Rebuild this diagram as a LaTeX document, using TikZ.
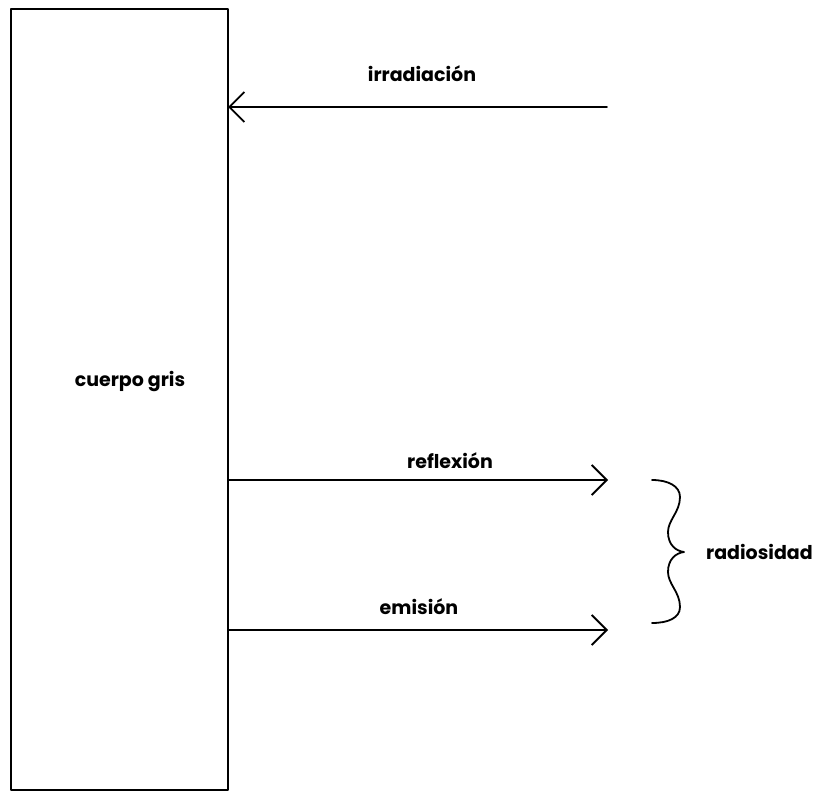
\documentclass[tikz,border=0pt]{standalone}
\usepackage{fontspec}
\setmainfont{Poppins}
\usetikzlibrary{arrows.meta}
\begin{document}
\begin{tikzpicture}[x=1pt,y=-1pt,
  line/.style={line width=1.8pt,line cap=round,line join=round},
  flow/.style={line,-{Straight Barb[length=15pt,width=30pt,line width=1.8pt]}},
  lbl/.style={font=\fontsize{19}{22}\selectfont\bfseries,inner sep=0pt,anchor=center}]
\useasboundingbox (0,0) rectangle (820,792);
% body
\node[line,draw,minimum width=217pt,minimum height=781pt,inner sep=0pt,outer sep=0pt] (body) at (119.5,399.5) {};
\node[lbl] (bodylbl) at (130,382) {cuerpo gris};
% coordinates
\coordinate (irrS) at (607,107);
\coordinate (refE) at (608,480);
\coordinate (emiE) at (608,630);
% arrows
\draw[flow] (irrS) -- (body.east |- irrS);
\draw[flow] (body.east |- refE) -- (refE);
\draw[flow] (body.east |- emiE) -- (emiE);
% labels
\node[lbl] (irrlbl) at (422,74) {irradiación};
\node[lbl] (reflbl) at (450,461) {reflexión};
\node[lbl] (emilbl) at (419,607) {emisión};
% brace
\coordinate (bt) at (652,480);
\coordinate (bb) at (652,623);
\coordinate (tip) at (684,552);
\draw[line] (bt) .. controls (668,480) and (680,486) .. (680,497)
  .. controls (680,512) and (668,520) .. (668,532)
  .. controls (668,545) and (676,551) .. (tip)
  .. controls (676,553) and (668,559) .. (668,572)
  .. controls (668,584) and (680,592) .. (680,607)
  .. controls (680,618) and (668,623) .. (bb);
\node[lbl,anchor=west] (radlbl) at (706,552) {radiosidad};
\end{tikzpicture}
\end{document}
